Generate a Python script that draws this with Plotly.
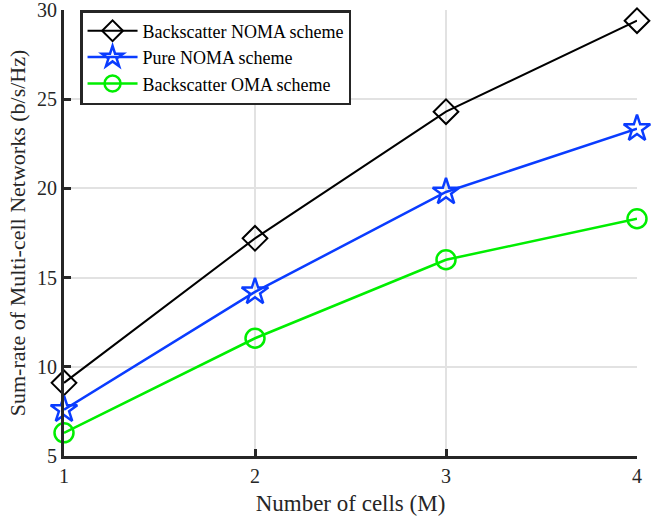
import plotly.graph_objects as go

cells = [1, 2, 3, 4]
backscatter_noma = [9.1, 17.2, 24.3, 29.4]
pure_noma = [7.6, 14.2, 19.8, 23.35]
backscatter_oma = [6.3, 11.6, 16.0, 18.3]

fig = go.Figure()
fig.add_trace(go.Scatter(x=cells, y=backscatter_noma, mode="lines+markers",
    name="Backscatter NOMA scheme", cliponaxis=False,
    line=dict(color="black", width=2),
    marker=dict(symbol="diamond-open", size=19, color="black", line=dict(width=2))))
fig.add_trace(go.Scatter(x=cells, y=pure_noma, mode="lines+markers",
    name="Pure NOMA scheme", cliponaxis=False,
    line=dict(color="#0a3cff", width=2.5),
    marker=dict(symbol="star-open", size=20, color="#0a3cff", line=dict(width=2.5))))
fig.add_trace(go.Scatter(x=cells, y=backscatter_oma, mode="lines+markers",
    name="Backscatter OMA scheme", cliponaxis=False,
    line=dict(color="#00ee00", width=2.5),
    marker=dict(symbol="circle-open", size=19, color="#00ee00", line=dict(width=2.5))))

font = "Liberation Serif, Times New Roman, serif"
fig.update_layout(
    width=651, height=522,
    margin=dict(l=64, r=14, t=10, b=66, autoexpand=False),
    paper_bgcolor="white", plot_bgcolor="white",
    font=dict(family=font, size=20, color="#262626"),
    showlegend=True,
    legend=dict(x=0.028, y=1.0, xanchor="left", yanchor="top",
                bgcolor="white", bordercolor="#262626", borderwidth=2.5,
                font=dict(family=font, size=18, color="black"),
                tracegroupgap=0, itemwidth=50),
    xaxis=dict(range=[1, 4], tickvals=[1, 2, 3, 4], showgrid=True,
               gridcolor="#e2e2e2", gridwidth=2, showline=True,
               linecolor="#262626", linewidth=3, ticks="inside",
               ticklen=7, tickwidth=2.5, tickcolor="#262626", zeroline=False,
               ticklabeloverflow="allow", automargin=False,
               title=dict(text="Number of cells (M)", font=dict(size=23), standoff=9),
               tickfont=dict(size=20)),
    yaxis=dict(range=[5, 30], tickvals=[5, 10, 15, 20, 25, 30], showgrid=True,
               gridcolor="#e2e2e2", gridwidth=2, showline=True,
               linecolor="#262626", linewidth=3, ticks="inside",
               ticklen=7, tickwidth=2.5, tickcolor="#262626", zeroline=False,
               ticklabeloverflow="allow", automargin=False,
               title=dict(text="Sum-rate of Multi-cell Networks (b/s/Hz)", font=dict(size=22), standoff=6),
               tickfont=dict(size=20)),
)
fig.write_html("out.html")
